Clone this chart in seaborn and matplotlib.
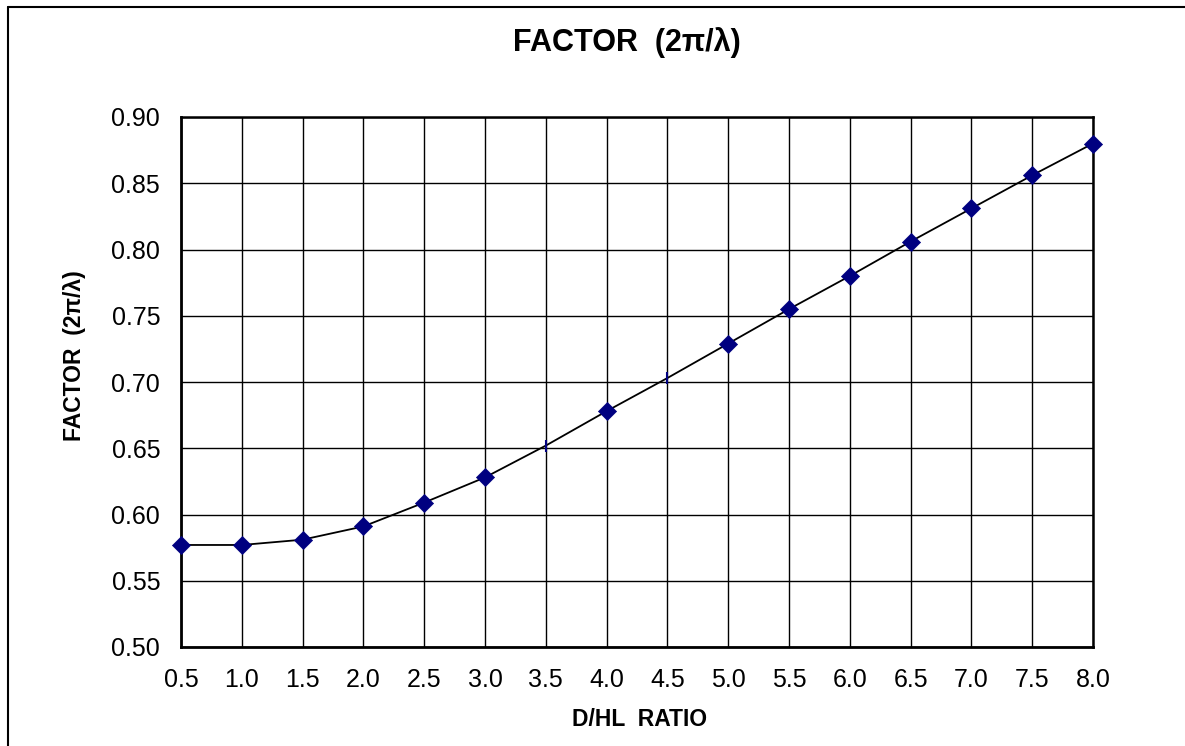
import matplotlib
matplotlib.use("Agg")
import matplotlib.pyplot as plt
import seaborn as sns
import pandas as pd
from matplotlib.lines import Line2D

ratio = [0.5, 1.0, 1.5, 2.0, 2.5, 3.0, 3.5, 4.0, 4.5, 5.0, 5.5, 6.0, 6.5, 7.0, 7.5, 8.0]
factor = [0.577, 0.577, 0.581, 0.591, 0.609, 0.628, 0.652, 0.678, 0.703, 0.729,
          0.755, 0.780, 0.806, 0.831, 0.856, 0.880]
# points whose diamond marker is hidden in the original (only a small tick shows)
hidden = [False, False, False, False, False, False, True, False, True, False,
          False, False, False, False, False, False]
x_ticks = [0.5, 1.0, 1.5, 2.0, 2.5, 3.0, 3.5, 4.0, 4.5, 5.0, 5.5, 6.0, 6.5, 7.0, 7.5, 8.0]
y_ticks = [0.50, 0.55, 0.60, 0.65, 0.70, 0.75, 0.80, 0.85, 0.90]

sns.set_style("white")
plt.rcParams['font.family'] = ['Liberation Sans', 'DejaVu Sans']
plt.rcParams['text.color'] = 'black'
plt.rcParams['axes.labelcolor'] = 'black'

df = pd.DataFrame({"ratio": ratio, "factor": factor, "hidden": hidden})

fig = plt.figure(figsize=(11.85, 7.46), dpi=100)
ax = fig.add_axes([181/1185, 1-647/746, (1093-181)/1185, (647-117)/746])

sns.lineplot(data=df, x="ratio", y="factor", color="black", linewidth=1.3, ax=ax, zorder=3)
sns.scatterplot(data=df[~df.hidden], x="ratio", y="factor", marker="D", s=85,
                color="#000080", edgecolor="#000080", linewidth=0.5, ax=ax, zorder=4,
                clip_on=False)
sns.scatterplot(data=df[df.hidden], x="ratio", y="factor", marker="|", s=70,
                color="#000080", linewidth=1.5, ax=ax, zorder=4)

ax.set_xlim(0.5, 8.0)
ax.set_ylim(0.50, 0.90)
ax.set_xticks(x_ticks)
ax.set_xticklabels([f"{v:.1f}" for v in x_ticks])
ax.set_yticks(y_ticks)
ax.set_yticklabels([f"{v:.2f}" for v in y_ticks])
ax.grid(True, color="black", linewidth=1.0)
ax.set_axisbelow(True)
ax.tick_params(axis="both", direction="out", length=8, width=1.6, colors="black",
               labelsize=18, pad=7)
for side in ["left", "bottom"]:
    ax.spines[side].set_linewidth(2.0)
for side in ["top", "right"]:
    ax.spines[side].set_linewidth(1.8)
for s in ax.spines.values():
    s.set_color("black")
    s.set_visible(True)

ax.set_xlabel("D/HL  RATIO", fontsize=16.5, fontweight="bold")
ax.set_ylabel("FACTOR  (2π/λ)", fontsize=16.5, fontweight="bold")
ax.xaxis.set_label_coords((640 - 181) / 912, -(720 - 647) / 530)
ax.yaxis.set_label_coords((75 - 181) / 912, (647 - 356) / 530)
ax.xaxis.label.set_va("center")
ax.yaxis.label.set_va("center")
fig.text(627/1185, 1-43/746, "FACTOR  (2π/λ)", ha="center", va="center",
         fontsize=22, fontweight="bold")

fig.add_artist(Line2D([8/1185, 8/1185], [0, 1-7/746], color="black", linewidth=1.5,
                      transform=fig.transFigure))
fig.add_artist(Line2D([8/1185, 1], [1-7/746, 1-7/746], color="black", linewidth=1.5,
                      transform=fig.transFigure))

fig.savefig("out.png", dpi=100)
